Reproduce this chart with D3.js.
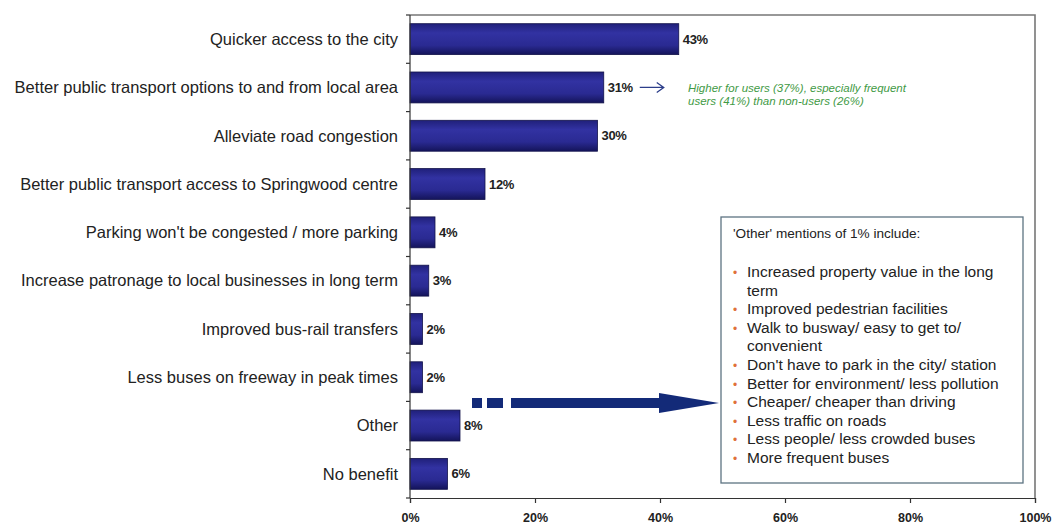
<!DOCTYPE html>
<html>
<head>
<meta charset="utf-8">
<script src="https://cdn.jsdelivr.net/npm/d3@7/dist/d3.min.js"></script>
<style>
  html, body { margin: 0; padding: 0; background: #fff; }
  svg { display: block; font-family: "Liberation Sans", Arial, sans-serif; }
</style>
</head>
<body>
<svg id="chart" width="1053" height="526"></svg>
<script>
const categories = [
  "Quicker access to the city",
  "Better public transport options to and from local area",
  "Alleviate road congestion",
  "Better public transport access to Springwood centre",
  "Parking won't be congested / more parking",
  "Increase patronage to local businesses in long term",
  "Improved bus-rail transfers",
  "Less buses on freeway in peak times",
  "Other",
  "No benefit"
];
const values = [43, 31, 30, 12, 4, 3, 2, 2, 8, 6];
const xTicks = [0, 20, 40, 60, 80, 100];
const noteLines = [
  "Higher for users (37%), especially frequent",
  "users (41%) than non-users (26%)"
];
const otherTitle = "'Other' mentions of 1% include:";
const otherItems = [
  ["Increased property value in the long", "term"],
  ["Improved pedestrian facilities"],
  ["Walk to busway/ easy to get to/", "convenient"],
  ["Don't have to park in the city/ station"],
  ["Better for environment/ less pollution"],
  ["Cheaper/ cheaper than driving"],
  ["Less traffic on roads"],
  ["Less people/ less crowded buses"],
  ["More frequent buses"]
];

(function () {
const svg = d3.select("#chart");
const pL = 410, pR = 1035, pT = 15, pB = 498;

const x = d3.scaleLinear().domain([0, 100]).range([pL, pR]);
const y = d3.scaleBand().domain(categories).range([pT, pB]).paddingInner(0.36).paddingOuter(0.18);

const defs = svg.append("defs");
const grad = defs.append("linearGradient").attr("id", "barGrad").attr("x1", 0).attr("y1", 0).attr("x2", 0).attr("y2", 1);
grad.append("stop").attr("offset", "0%").attr("stop-color", "#20207a");
grad.append("stop").attr("offset", "30%").attr("stop-color", "#3232a2");
grad.append("stop").attr("offset", "70%").attr("stop-color", "#2a2a92");
grad.append("stop").attr("offset", "100%").attr("stop-color", "#14145a");

// frame (top + right)
svg.append("path")
  .attr("d", `M${pL},${pT}H${pR}V${pB}`)
  .attr("fill", "none").attr("stroke", "#777").attr("stroke-width", 1.6);

// bars
svg.append("g").selectAll("rect").data(values).join("rect")
  .attr("x", x(0))
  .attr("y", (d, i) => y(categories[i]))
  .attr("width", d => x(d) - x(0))
  .attr("height", y.bandwidth())
  .attr("fill", "url(#barGrad)")
  .attr("stroke", "#12124a").attr("stroke-width", 0.8);

// value labels
svg.append("g").selectAll("text").data(values).join("text")
  .attr("x", d => x(d) + 4)
  .attr("y", (d, i) => y(categories[i]) + y.bandwidth() / 2)
  .attr("dy", "0.35em")
  .attr("font-size", 13).attr("font-weight", "bold").attr("fill", "#222")
  .attr("letter-spacing", -0.3)
  .text(d => d + "%");

// y axis
const yTickPos = d3.range(categories.length + 1).map(i => pT + i * (pB - pT) / categories.length);
const yAxisG = svg.append("g");
yAxisG.append("line").attr("x1", pL).attr("x2", pL).attr("y1", pT).attr("y2", pB)
  .attr("stroke", "#333").attr("stroke-width", 1.2);
yAxisG.selectAll("line.tk").data(yTickPos).join("line").attr("class", "tk")
  .attr("x1", pL - 4).attr("x2", pL).attr("y1", d => d).attr("y2", d => d)
  .attr("stroke", "#333").attr("stroke-width", 1.2);
yAxisG.selectAll("text").data(categories).join("text")
  .attr("x", pL - 12)
  .attr("y", d => y(d) + y.bandwidth() / 2)
  .attr("dy", "0.35em").attr("text-anchor", "end")
  .attr("font-size", 16.5).attr("fill", "#222")
  .text(d => d);

// x axis
const xAxis = d3.axisBottom(x).tickValues(xTicks).tickFormat(d => d + "%").tickSize(5).tickPadding(10);
const xg = svg.append("g").attr("transform", `translate(0,${pB})`).call(xAxis);
xg.select(".domain").attr("stroke", "#333").attr("stroke-width", 1.2);
xg.selectAll(".tick line").attr("stroke", "#333").attr("stroke-width", 1.2);
xg.selectAll(".tick text").attr("font-size", 12.5).attr("font-weight", "bold").attr("fill", "#222")
  .attr("font-family", "Liberation Sans, Arial, sans-serif");

// small arrow + note
const i31 = 1;
const ay = y(categories[i31]) + y.bandwidth() / 2;
const ax0 = x(values[i31]) + 36;
svg.append("path")
  .attr("d", `M${ax0},${ay}H${ax0 + 24}M${ax0 + 17},${ay - 5}L${ax0 + 24},${ay}L${ax0 + 17},${ay + 5}`)
  .attr("fill", "none").attr("stroke", "#2c3e8a").attr("stroke-width", 1.3);
svg.append("g").selectAll("text").data(noteLines).join("text")
  .attr("x", 688).attr("y", (d, i) => 92 + i * 13)
  .attr("font-size", 11.5).attr("font-style", "italic").attr("fill", "#3f9a45")
  .text(d => d);

// big dashed arrow from "Other"
const arrowY = 403;
const ag = svg.append("g").attr("fill", "#132a78");
ag.append("rect").attr("x", 472).attr("y", arrowY - 5).attr("width", 10).attr("height", 10);
ag.append("rect").attr("x", 487).attr("y", arrowY - 5).attr("width", 16).attr("height", 10);
ag.append("rect").attr("x", 511).attr("y", arrowY - 5).attr("width", 150).attr("height", 10);
ag.append("path").attr("d", `M659,${arrowY - 10}L719,${arrowY}L659,${arrowY + 10}Z`);

// other box
svg.append("rect").attr("x", 721).attr("y", 217).attr("width", 302).attr("height", 266)
  .attr("fill", "#fff").attr("stroke", "#5d7382").attr("stroke-width", 1.3);
svg.append("text").attr("x", 733).attr("y", 238).attr("font-size", 13.6).attr("fill", "#222").text(otherTitle);

let lineY = 277;
const lh = 18.6;
const lg = svg.append("g");
otherItems.forEach(item => {
  lg.append("text").attr("x", 733).attr("y", lineY).attr("font-size", 12).attr("fill", "#e0703a").text("•");
  item.forEach((t, j) => {
    lg.append("text").attr("x", 747).attr("y", lineY + j * lh)
      .attr("font-size", 15.5).attr("fill", "#222").text(t);
  });
  lineY += item.length * lh;
});
})();
</script>
</body>
</html>
